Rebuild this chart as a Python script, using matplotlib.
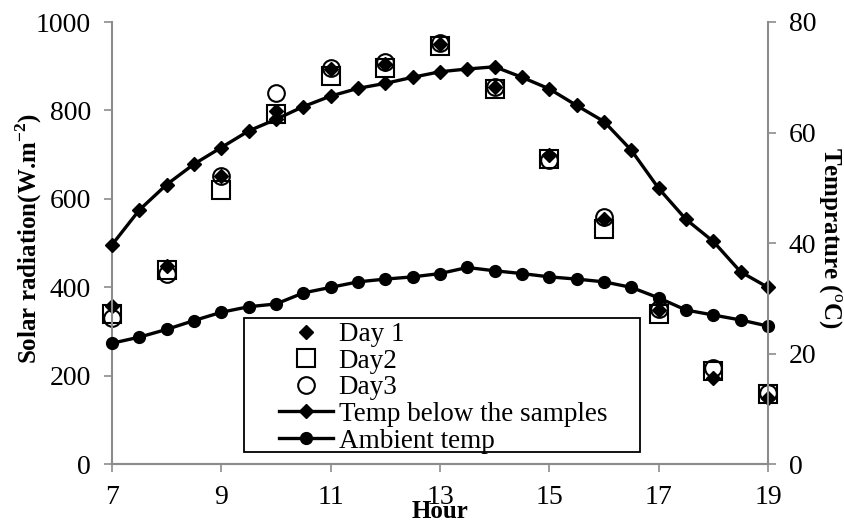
import matplotlib
matplotlib.use("Agg")
import matplotlib.pyplot as plt
from matplotlib.patches import Rectangle

# ==== Data ====
hours = [7, 8, 9, 10, 11, 12, 13, 14, 15, 16, 17, 18, 19]
day1 = [358, 448, 652, 798, 893, 906, 950, 852, 700, 555, 348, 195, 150]
day2 = [340, 440, 621, 791, 878, 895, 946, 848, 691, 533, 340, 210, 159]
day3 = [331, 430, 652, 840, 896, 910, 952, 852, 688, 558, 350, 218, 162]

half_hours = [7, 7.5, 8, 8.5, 9, 9.5, 10, 10.5, 11, 11.5, 12, 12.5, 13,
              13.5, 14, 14.5, 15, 15.5, 16, 16.5, 17, 17.5, 18, 18.5, 19]
temp_below = [39.7, 46.0, 50.6, 54.3, 57.3, 60.3, 62.4, 64.7, 66.6, 68.0,
              68.9, 70.0, 71.0, 71.5, 71.9, 70.0, 67.9, 64.9, 62.0, 56.8,
              49.9, 44.3, 40.3, 34.8, 32.0]
temp_ambient = [21.9, 23.0, 24.4, 26.0, 27.5, 28.5, 29.0, 31.0, 32.0, 33.0,
                33.5, 33.9, 34.5, 35.6, 35.0, 34.5, 33.9, 33.5, 33.0, 32.0,
                30.1, 27.9, 27.0, 26.1, 25.0]

x_ticks = [7, 9, 11, 13, 15, 17, 19]
left_ticks = [0, 200, 400, 600, 800, 1000]
right_ticks = [0, 20, 40, 60, 80]

# ==== Style ====
plt.rcParams['font.family'] = ['Liberation Serif', 'DejaVu Serif']
plt.rcParams['mathtext.fontset'] = 'custom'
plt.rcParams['mathtext.rm'] = 'Liberation Serif'
plt.rcParams['mathtext.bf'] = 'Liberation Serif:bold'
TICK_FS = 20
LABEL_FS = 18
LEG_FS = 19.5
GRAY = '#8c8c8c'

fig = plt.figure(figsize=(8.44, 5.22), dpi=100)
ax = fig.add_axes([112 / 844, 1 - 464.3 / 522, 656 / 844, 442.3 / 522])
ax2 = ax.twinx()

l1, = ax.plot(hours, day1, ls='none', marker='D', ms=7.5, color='black',
              label='Day 1', clip_on=False)
l2, = ax.plot(hours, day2, ls='none', marker='s', ms=13, mfc='none',
              mec='black', mew=1.5, label='Day2', clip_on=False)
l3, = ax.plot(hours, day3, ls='none', marker='o', ms=12, mfc='none',
              mec='black', mew=1.5, label='Day3', clip_on=False)

l4, = ax2.plot(half_hours, temp_below, color='black', lw=2.4, marker='D',
               ms=7, label='Temp below the samples', clip_on=False)
l5, = ax2.plot(half_hours, temp_ambient, color='black', lw=2.4, marker='o',
               ms=8.5, label='Ambient temp', clip_on=False)

ax.set_xlim(7, 19)
ax.set_ylim(0, 1000)
ax2.set_ylim(0, 80)
ax.set_xticks(x_ticks)
ax.set_yticks(left_ticks)
ax2.set_yticks(right_ticks)

for a in (ax, ax2):
    for s in a.spines.values():
        s.set_color(GRAY)
        s.set_linewidth(1.5)
    a.spines['top'].set_visible(False)
    a.tick_params(direction='out', length=6, width=1.2, color=GRAY,
                  labelsize=TICK_FS, pad=9)
ax.spines['right'].set_visible(False)
ax2.spines['left'].set_visible(False)

ax.set_xlabel('Hour', fontsize=LABEL_FS, fontweight='bold')
ax.xaxis.set_label_coords(0.5, -0.081)
ax.set_ylabel(r'Solar radiation(W.m$^{\mathbf{-2}}$)', fontsize=LABEL_FS,
              fontweight='bold', va='center')
ax.yaxis.set_label_coords(-0.127, 0.511)
ax2.set_ylabel(r'Temprature ($^{\mathrm{o}}$C)', fontsize=LABEL_FS,
               fontweight='bold', rotation=270, va='center')
ax2.yaxis.set_label_coords(1.094, 0.511)

# legend box
fig.patches.append(Rectangle((244 / 844, 1 - 452 / 522), 396 / 844,
                             134.3 / 522, transform=fig.transFigure,
                             facecolor='white', edgecolor='black', lw=1.3,
                             zorder=4))
fig.legend(handles=[l1, l2, l3, l4, l5], loc='upper left',
           bbox_to_anchor=(279 / 844, 1 - 322 / 522), frameon=False,
           fontsize=LEG_FS, borderpad=0, borderaxespad=0, labelspacing=0.06,
           handlelength=2.0, handletextpad=0.2)

fig.savefig('out.png', dpi=100)
